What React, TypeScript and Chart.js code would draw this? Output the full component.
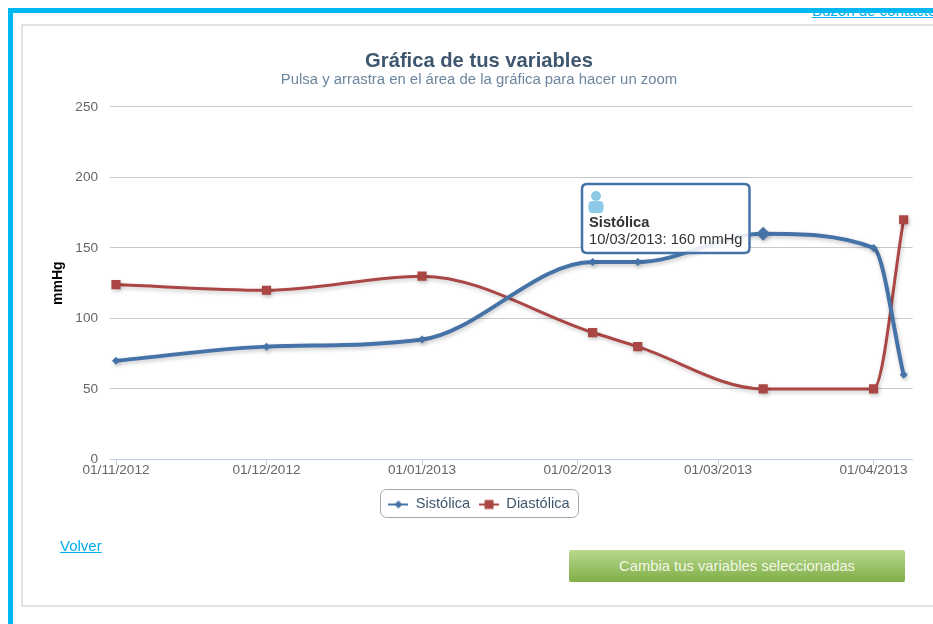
import React, { useEffect, useRef } from "react";
import { Chart, registerables, Tooltip } from "chart.js";

Chart.register(...registerables);

const dates = ["01/11/2012", "01/12/2012", "01/01/2013", "04/02/2013", "13/02/2013", "10/03/2013", "01/04/2013", "07/04/2013"];
const sistolica = [70, 80, 85, 140, 140, 160, 150, 60];
const diastolica = [124, 120, 130, 90, 80, 50, 50, 170];
const tickLabels = ["01/11/2012", "01/12/2012", "01/01/2013", "01/02/2013", "01/03/2013", "01/04/2013"];
const yTicks = [0, 50, 100, 150, 200, 250];

const FONT = "'Liberation Sans', Arial, sans-serif";
const BLUE = "#4572A7";
const RED = "#AA4643";

function dayOf(s: string) {
  const [d, m, y] = s.split("/").map(Number);
  return Date.UTC(y, m - 1, d) / 86400000;
}
const origin = dayOf(tickLabels[0]);
const toX = (s: string) => dayOf(s) - origin;

function legendIcon(color: string, kind: "diamond" | "square") {
  const c = document.createElement("canvas");
  c.width = 20;
  c.height = 12;
  const g = c.getContext("2d")!;
  g.fillStyle = color;
  g.fillRect(0, 5, 20, 2);
  if (kind === "diamond") {
    g.beginPath();
    g.moveTo(10, 2);
    g.lineTo(14, 6);
    g.lineTo(10, 10);
    g.lineTo(6, 6);
    g.closePath();
    g.fill();
  } else {
    g.fillRect(5.5, 1.5, 9, 9);
  }
  return c;
}

(Tooltip.positioners as any).fixedBox = () => ({ x: 582 - 25 + 5, y: 184 });

const extras = {
  id: "extras",
  beforeDatasetDraw(chart: any) {
    const ctx = chart.ctx;
    ctx.save();
    ctx.shadowColor = "rgba(0,0,0,0.22)";
    ctx.shadowBlur = 4;
    ctx.shadowOffsetX = 1;
    ctx.shadowOffsetY = 2;
  },
  afterDatasetDraw(chart: any) {
    chart.ctx.restore();
  },
  afterDraw(chart: any) {
    const ctx = chart.ctx;
    const hb = chart.legend.legendHitBoxes;
    const first = hb[0];
    const last = hb[hb.length - 1];
    const left = Math.round(first.left - 8);
    const right = Math.round(last.left + last.width + 8);
    const cy = first.top + first.height / 2;
    ctx.save();
    ctx.strokeStyle = "#A8A8A8";
    ctx.lineWidth = 1;
    ctx.beginPath();
    ctx.roundRect(left + 0.5, Math.round(cy - 15) + 0.5, right - left, 28, 6);
    ctx.stroke();
    const t = chart.tooltip;
    if (t && t.opacity) {
      const cx = t.x + 14;
      const top = t.y + 6;
      ctx.fillStyle = "#8CCAE8";
      ctx.beginPath();
      ctx.arc(cx, top + 6, 5, 0, Math.PI * 2);
      ctx.fill();
      ctx.beginPath();
      ctx.roundRect(cx - 7.5, top + 11, 15, 12, 4);
      ctx.fill();
    }
    ctx.restore();
  },
};

export default function App() {
  const ref = useRef<HTMLCanvasElement>(null);

  useEffect(() => {
    const chart = new Chart(ref.current!, {
      type: "line",
      data: {
        datasets: [
          {
            label: "Sistólica",
            data: dates.map((d, i) => ({ x: toX(d), y: sistolica[i] })),
            borderColor: BLUE,
            backgroundColor: BLUE,
            borderWidth: 4,
            pointStyle: "rectRot",
            pointRadius: 4,
            pointHoverRadius: 7,
            pointBorderWidth: 0,
            pointHoverBorderWidth: 0,
            pointBackgroundColor: BLUE,
            pointHoverBackgroundColor: BLUE,
            cubicInterpolationMode: "monotone",
          },
          {
            label: "Diastólica",
            data: dates.map((d, i) => ({ x: toX(d), y: diastolica[i] })),
            borderColor: RED,
            backgroundColor: RED,
            borderWidth: 3,
            pointStyle: "rect",
            pointRadius: 6.5,
            pointBorderWidth: 0,
            pointBackgroundColor: RED,
            cubicInterpolationMode: "monotone",
          },
        ],
      } as any,
      options: {
        animation: false,
        responsive: false,
        events: [],
        layout: { padding: { left: 20.4, right: 20.4, top: 0, bottom: 102.25 } },
        scales: {
          x: {
            type: "linear",
            min: (110 - 116) / 5.017,
            max: (912.6 - 116) / 5.017,
            afterBuildTicks: (s: any) => {
              s.ticks = tickLabels.map((t) => ({ value: toX(t) }));
            },
            afterFit: (s: any) => {
              s.height = 28.75;
            },
            grid: { drawOnChartArea: false, color: "#C0D0E0", tickLength: 6, tickColor: "#C0D0E0" },
            border: { color: "#C0D0E0" },
            ticks: {
              autoSkip: false,
              maxRotation: 0,
              minRotation: 0,
              padding: -3,
              color: "#666666",
              font: { family: FONT, size: 13.6 },
              callback: (v: any) => {
                const t = tickLabels.find((l) => toX(l) === v);
                return t ?? "";
              },
            },
          },
          y: {
            min: 0,
            max: 250,
            afterBuildTicks: (s: any) => {
              s.ticks = yTicks.map((v) => ({ value: v }));
            },
            afterFit: (s: any) => {
              s.width = 64.6;
            },
            grid: { color: "#C8C8C8", tickLength: 0, drawTicks: false },
            border: { display: false },
            ticks: { padding: 12, color: "#666666", font: { family: FONT, size: 13.6 } },
            title: {
              display: true,
              text: "mmHg",
              color: "#000000",
              font: { family: FONT, size: 14, weight: "bold" },
              padding: { top: 4, bottom: 0 },
            },
          },
        },
        plugins: {
          title: {
            display: true,
            text: "Gráfica de tus variables",
            color: "#3E576F",
            font: { family: FONT, size: 20.2, weight: "bold", lineHeight: 1 },
            padding: { top: 51, bottom: 0 },
          },
          subtitle: {
            display: true,
            text: "Pulsa y arrastra en el área de la gráfica para hacer un zoom",
            color: "#6D869F",
            font: { family: FONT, size: 14.9 },
            padding: { top: 0, bottom: 17.9 },
          },
          legend: {
            position: "bottom",
            labels: {
              color: "#3E576F",
              font: { family: FONT, size: 14.6 },
              padding: 9,
              boxWidth: 20,
              usePointStyle: true,
              pointStyleWidth: 20,
              generateLabels: (c: any) =>
                c.data.datasets.map((d: any, i: number) => ({
                  text: d.label,
                  datasetIndex: i,
                  fontColor: "#3E576F",
                  pointStyle: legendIcon(i === 0 ? BLUE : RED, i === 0 ? "diamond" : "square"),
                  hidden: false,
                })),
            },
          },
          tooltip: {
            enabled: true,
            position: "fixedBox" as any,
            xAlign: "left",
            yAlign: "top",
            caretSize: 0,
            caretPadding: 0,
            cornerRadius: 5,
            backgroundColor: "rgba(255,255,255,0.88)",
            borderColor: BLUE,
            borderWidth: 2.5,
            padding: { top: 7, bottom: 4, left: 7, right: 7 },
            displayColors: false,
            titleColor: "#333333",
            bodyColor: "#333333",
            titleFont: { family: FONT, size: 14.7, weight: "bold" },
            bodyFont: { family: FONT, size: 14.7 },
            titleSpacing: 5,
            titleMarginBottom: 0,
            callbacks: {
              title: (items: any[]) => ["", items[0].dataset.label],
              label: (it: any) => `${dates[it.dataIndex]}: ${it.parsed.y} mmHg`,
            },
          },
        },
      } as any,
      plugins: [extras],
    });

    const active = [{ datasetIndex: 0, index: 5 }];
    chart.setActiveElements(active);
    chart.tooltip!.setActiveElements(active, { x: 0, y: 0 });
    chart.render();
    return () => chart.destroy();
  }, []);

  const link: React.CSSProperties = {
    position: "absolute",
    color: "#00AEEF",
    textDecoration: "underline",
    fontFamily: FONT,
    fontSize: 15,
    whiteSpace: "nowrap",
  };

  return (
    <div style={{ position: "fixed", inset: 0, overflow: "hidden", background: "#fff" }}>
      <div style={{ position: "absolute", left: 800, top: 13, right: 0, height: 5, overflow: "hidden" }}>
        <span style={{ ...link, left: 12, top: -11 }}>Buzón de contacto</span>
      </div>
      <div style={{ position: "absolute", left: 8, top: 8, right: 0, height: 5, background: "#00B7F1" }} />
      <div style={{ position: "absolute", left: 8, top: 8, bottom: 0, width: 5, background: "#00B7F1" }} />
      <div
        style={{
          position: "absolute",
          left: 21,
          top: 24,
          right: -10,
          height: 583,
          border: "2px solid #E2E2E2",
          boxSizing: "border-box",
        }}
      />
      <canvas ref={ref} width={908} height={624} style={{ position: "absolute", left: 25, top: 0, display: "block" }} />
      <span style={{ ...link, left: 60, top: 537 }}>Volver</span>
      <div
        style={{
          position: "absolute",
          left: 569,
          top: 550,
          width: 336,
          height: 32,
          background: "linear-gradient(#B9D88F, #7FAE45)",
          borderRadius: 2,
          color: "#F1F7E6",
          fontFamily: FONT,
          fontSize: 14.8,
          lineHeight: "32px",
          textAlign: "center",
        }}
      >
        Cambia tus variables seleccionadas
      </div>
    </div>
  );
}
